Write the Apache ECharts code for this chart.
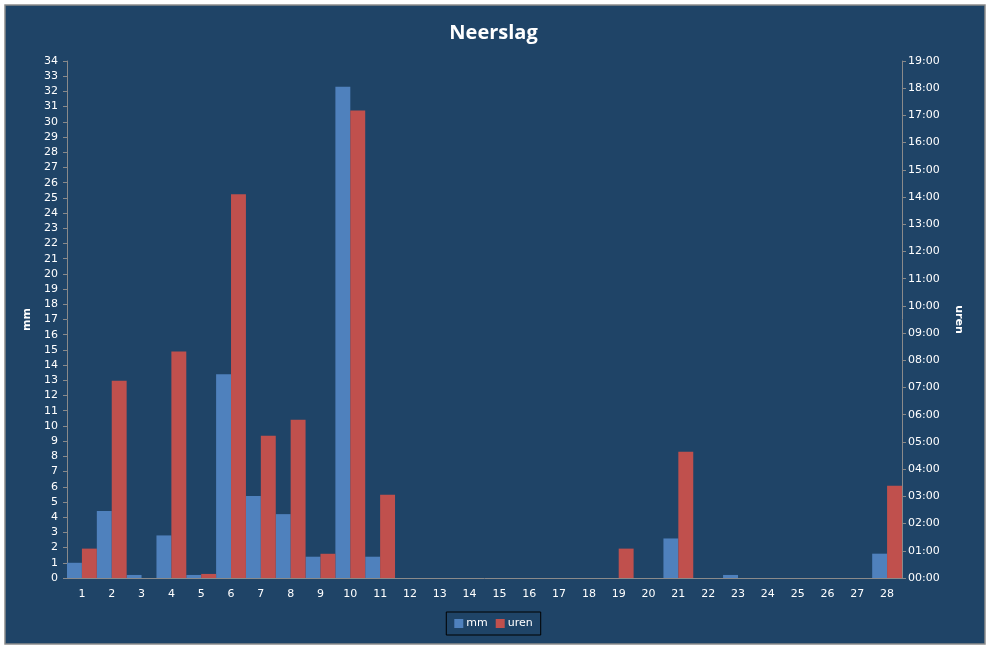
<!DOCTYPE html>
<html>
<head>
    <meta charset="utf-8">
    <title>Neerslag</title>
    <script src="https://cdn.jsdelivr.net/npm/echarts@6/dist/echarts.min.js"></script>
    <style>
        html, body { margin: 0; padding: 0; background: #fff; }
    </style>
</head>
<body>
    <div id="main" style="width: 987px;height:648px;"></div>
    <script type="text/javascript">
        // dagen van de maand
        var days = ['1', '2', '3', '4', '5', '6', '7', '8', '9', '10', '11', '12', '13', '14',
            '15', '16', '17', '18', '19', '20', '21', '22', '23', '24', '25', '26', '27', '28'];

        // neerslag in mm
        var mm = [1.0, 4.4, 0.2, 2.8, 0.2, 13.4, 5.4, 4.2, 1.4, 32.3, 1.4, 0, 0, 0,
            0, 0, 0, 0, 0, 0, 2.6, 0, 0.2, 0, 0, 0, 0, 1.6];

        // duur van de neerslag in uren
        var uren = [1.08, 7.25, 0, 8.32, 0.15, 14.1, 5.23, 5.82, 0.89, 17.18, 3.06, 0, 0, 0,
            0, 0, 0, 0, 1.08, 0, 4.64, 0, 0, 0, 0, 0, 0, 3.39];

        var txt = '#FFFFFF';
        var axisGrey = '#8A8A8A';
        var font = 'DejaVu Sans';

        var myChart = echarts.init(document.getElementById('main'));

        var option = {
            backgroundColor: '#fff',
            animation: false,
            textStyle: { fontFamily: font },
            graphic: [{
                type: 'rect',
                z: -10,
                silent: true,
                shape: { x: 5, y: 5, width: 980, height: 639 },
                style: { fill: '#1F4467', stroke: '#8C8C8C', lineWidth: 1.5 }
            }],
            title: {
                text: 'Neerslag',
                left: 'center',
                top: 18,
                textStyle: { color: txt, fontSize: 20, fontWeight: 'bold', fontFamily: 'Open Sans' }
            },
            legend: {
                data: ['mm', 'uren'],
                left: 'center',
                top: 612,
                itemWidth: 9,
                itemHeight: 9,
                itemGap: 8,
                padding: [6, 8, 6, 8],
                borderColor: '#000',
                borderWidth: 1,
                icon: 'rect',
                textStyle: { color: txt, fontSize: 11, padding: [0, 0, 0, -2] }
            },
            grid: { left: 67, right: 85, top: 61, bottom: 70 },
            xAxis: {
                type: 'category',
                data: days,
                axisLine: { lineStyle: { color: axisGrey } },
                axisTick: { length: 4, lineStyle: { color: axisGrey } },
                axisLabel: { color: txt, fontSize: 11, margin: 11 }
            },
            yAxis: [{
                type: 'value',
                name: 'mm',
                nameLocation: 'middle',
                nameRotate: 90,
                nameGap: 30,
                nameTextStyle: { color: txt, fontSize: 11, fontWeight: 'bold' },
                min: 0,
                max: 34,
                interval: 1,
                axisLine: { show: true, lineStyle: { color: axisGrey } },
                axisTick: { show: true, length: 4, lineStyle: { color: axisGrey } },
                axisLabel: { color: txt, fontSize: 11, margin: 9 },
                splitLine: { show: false }
            }, {
                type: 'value',
                name: 'uren',
                nameLocation: 'middle',
                nameRotate: -90,
                nameGap: 51,
                nameTextStyle: { color: txt, fontSize: 11, fontWeight: 'bold' },
                min: 0,
                max: 19,
                interval: 1,
                axisLine: { show: true, lineStyle: { color: axisGrey } },
                axisTick: { show: true, length: 4, lineStyle: { color: axisGrey } },
                axisLabel: {
                    color: txt,
                    fontSize: 11,
                    margin: 6,
                    formatter: function (v) {
                        return (v < 10 ? '0' : '') + v + ':00';
                    }
                },
                splitLine: { show: false }
            }],
            series: [{
                name: 'mm',
                type: 'bar',
                yAxisIndex: 0,
                data: mm,
                barGap: '0%',
                barCategoryGap: '0%',
                itemStyle: { color: '#4F81BD' }
            }, {
                name: 'uren',
                type: 'bar',
                yAxisIndex: 1,
                data: uren,
                barGap: '0%',
                barCategoryGap: '0%',
                itemStyle: { color: '#C0504D' }
            }]
        };

        myChart.setOption(option);
    </script>
</body>
</html>
